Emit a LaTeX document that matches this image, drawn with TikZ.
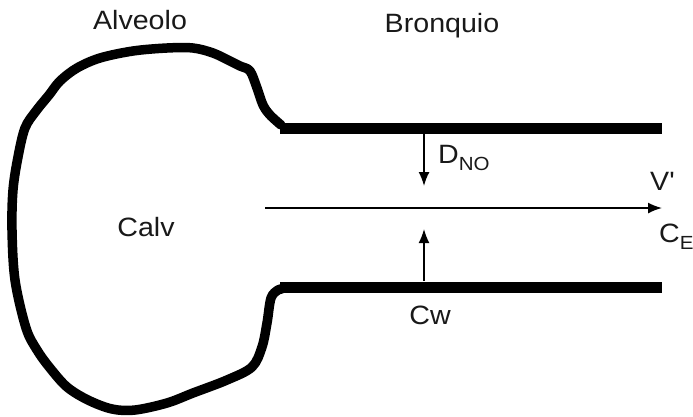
\documentclass[tikz,border=0pt]{standalone}
\usepackage{fontspec}
\setmainfont{Liberation Sans}
\usetikzlibrary{arrows.meta}
\newcommand\lbl[1]{\scalebox{1.08}[1]{#1}}
\newcommand\sbs[1]{\raisebox{-7pt}{\fontsize{19}{21}\selectfont\lbl{#1}}}
\tikzset{
  wall/.style={line width=9.5pt, line join=round, line cap=round},
  tube/.style={line width=11pt},
  flow/.style={line width=1.6pt, -{Latex[length=14pt,width=11pt]}},
  txt/.style={font=\fontsize{26.5}{30}\selectfont, text=black!90, inner sep=0pt, anchor=base}
}
\begin{document}
\begin{tikzpicture}[x=1pt,y=-1pt]
  \useasboundingbox (0,0) rectangle (693,416);

  % bronchial tube walls
  \coordinate (tl) at (280,128);
  \coordinate (tr) at (662,128);
  \coordinate (bl) at (280,287);
  \coordinate (br) at (662,287);
  \draw[tube] (tl) -- (tr);
  \draw[tube] (bl) -- (br);

  % alveolus outline
  \draw[wall] plot[smooth, tension=0.55] coordinates {
    (281,125) (270,115) (263,105) (257,88) (250,71) (240,66) (230,61)
    (213,53) (193,48) (167,48) (133,51) (100,58) (77,68) (60,81)
    (49,95) (36,111) (25,128) (18,157) (13,190) (12,230) (15,280)
    (26,328) (37,350) (50,368) (67,387) (88,400) (112,409) (135,410)
    (167,403) (193,393) (227,380) (252,367) (262,347) (267,323)
    (271,298) (278,290) (282,289)};

  % labels
  \node[txt] (alv) at (140,29) {\lbl{Alveolo}};
  \node[txt] (bro) at (442,32) {\lbl{Bronquio}};
  \node[txt] (calv) at (146,236) {\lbl{Calv}};
  \node[txt] (cw) at (430,324) {\lbl{Cw}};
  \node[txt, anchor=base west] (vdot) at (650,190) {\lbl{V\textquotesingle}};
  \node[txt, anchor=base west] (ce) at (659,242) {\lbl{C}\sbs{E}};
  \node[txt, anchor=base west] (dno) at (438,163) {\lbl{D}\sbs{NO}};

  % flow and exchange arrows
  \coordinate (fin) at (265,208);
  \coordinate (fout) at (662,208);
  \draw[flow] (fin) -- (fout);

  \coordinate (dtop) at (424,134);
  \coordinate (dtip) at (424,186);
  \draw[flow] (dtop) -- (dtip);

  \coordinate (wbot) at (424,281);
  \coordinate (wtip) at (424,229);
  \draw[flow] (wbot) -- (wtip);
\end{tikzpicture}
\end{document}
